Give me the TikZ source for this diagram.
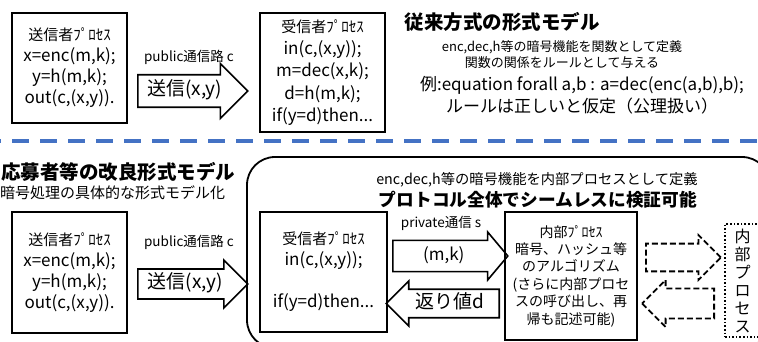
\documentclass[tikz,border=0pt]{standalone}
\usepackage{fontspec}
\setmainfont{Noto Sans CJK JP}
\usetikzlibrary{shapes.arrows, positioning}

\definecolor{sepblue}{RGB}{68,114,196}

\begin{document}
\begin{tikzpicture}[x=1pt, y=-1pt]
    \tikzset{procbox/.style = {rectangle, draw, line width=1.6pt, inner sep=0pt, align=center}}
    \tikzset{blockarrow/.style = {single arrow, draw, line width=1.6pt, single arrow head indent=0pt, inner xsep=0pt, inner ysep=0pt, anchor=tail}}
    \tikzset{dasharrow/.style = {blockarrow, line width=1.8pt, dash pattern=on 6pt off 3pt}}
    \tikzset{codefont/.style = {font=\fontsize{17}{21}\selectfont}}
    \tikzset{note/.style = {inner sep=0pt, align=center}}
    \clip (0,0) rectangle (758,342);

    % Conventional model
    \node [procbox, codefont, minimum width=115, minimum height=110] (sendA) at (69.5,68)
        {{\fontsize{15}{19}\selectfont 送信者ﾌﾟﾛｾｽ}\\x=enc(m,k);\\y=h(m,k);\\out(c,(x,y)).};
    \node [procbox, font=\fontsize{17}{22.2}\selectfont, minimum width=125, minimum height=119] (recvA) at (322.5,72.5)
        {{\fontsize{15}{19}\selectfont 受信者ﾌﾟﾛｾｽ}\\in(c,(x,y));\\m=dec(x,k);\\d=h(m,k);\\if(y=d)then...};
    \node [note, font=\fontsize{13.5}{16}\selectfont] (chanA) at (189,57) {public通信路 c};
    \node [blockarrow, font=\fontsize{19}{22}\selectfont, text height=14pt, text depth=5pt,
        minimum height=110, minimum width=55] (sendArrA) at (137,91) {送信(x,y)};

    \node [note, font=\bfseries\fontsize{19.5}{22}\selectfont] (titleA) at (502,22) {従来方式の形式モデル};
    \node [note, font=\fontsize{13}{15.5}\selectfont] (defA) at (562,54.5)
        {enc,dec,h等の暗号機能を関数として定義\\関数の関係をルールとして与える};
    \node [note, font=\fontsize{17}{22}\selectfont] (ruleA) at (582,95)
        {例:equation forall a,b : a=dec(enc(a,b),b);\\ルールは正しいと仮定（公理扱い）};

    % Separator
    \coordinate (sepL) at (0,141);
    \coordinate (sepR) at (758,141);
    \draw [sepblue, line width=4.5pt, dash pattern=on 17pt off 11pt, dash phase=16pt] (sepL) -- (sepR);

    % Improved model
    \node [note, anchor=west, font=\bfseries\fontsize{19.5}{22}\selectfont] (titleB) at (1,172) {応募者等の改良形式モデル};
    \node [note, anchor=west, font=\fontsize{15}{18}\selectfont] (subB) at (0,193) {暗号処理の具体的な形式モデル化};

    \node [draw, line width=1.8pt, rounded corners=28pt, minimum width=523, minimum height=191] (verify) at (508.5,252.5) {};

    \node [procbox, codefont, minimum width=115, minimum height=121] (sendB) at (69.5,272.5)
        {{\fontsize{15}{19}\selectfont 送信者ﾌﾟﾛｾｽ}\\x=enc(m,k);\\y=h(m,k);\\out(c,(x,y)).};
    \node [procbox, codefont, minimum width=127, minimum height=120] (recvB) at (323.5,272)
        {{\fontsize{15}{19}\selectfont 受信者ﾌﾟﾛｾｽ}\\in(c,(x,y));\\\mbox{}\\if(y=d)then...};
    \node [note, font=\fontsize{13.5}{16}\selectfont] (chanB) at (189,242) {public通信路 c};
    \node [blockarrow, font=\fontsize{19}{22}\selectfont, text height=15pt, text depth=7pt,
        minimum height=110, minimum width=48] (sendArrB) at (137,284) {送信(x,y)};

    \node [note, font=\fontsize{14.3}{17}\selectfont] (defB) at (537,180) {enc,dec,h等の暗号機能を内部プロセスとして定義};
    \node [note, font=\bfseries\fontsize{17.7}{21}\selectfont] (claimB) at (538,200) {プロトコル全体でシームレスに検証可能};
    \node [note, font=\fontsize{13.5}{16}\selectfont] (privB) at (441,223) {private通信 s};

    \node [blockarrow, font=\fontsize{17}{20}\selectfont, text height=17pt, text depth=8pt,
        minimum height=115, minimum width=48, single arrow tip angle=100] (mkArr) at (392,256) {(m,k)};
    \node [blockarrow, shape border rotate=180, font=\fontsize{19}{21}\selectfont, text height=16pt, text depth=7pt,
        minimum height=113, minimum width=45] (retArr) at (500,303.5) {返り値d};

    \node [procbox, font=\fontsize{14}{17.4}\selectfont, minimum width=132, minimum height=128] (inner) at (571,276)
        {内部ﾌﾟﾛｾｽ\\暗号、ハッシュ等\\のアルゴリズム\\(さらに内部プロセ\\スの呼び出し、再\\帰も記述可能)};

    \node [dasharrow, inner ysep=10.5pt, minimum height=75, minimum width=45] (callArr) at (645,257.5) {};
    \node [dasharrow, shape border rotate=180, inner ysep=11.5pt, minimum height=72, minimum width=47] (backArr) at (715,303.5) {};

    \node [procbox, dotted, line width=1.6pt, font=\fontsize{16}{18}\selectfont, minimum width=35, minimum height=113] (subproc) at (742.5,280.5)
        {内\\部\\プ\\ロ\\セ\\ス};
\end{tikzpicture}
\end{document}
